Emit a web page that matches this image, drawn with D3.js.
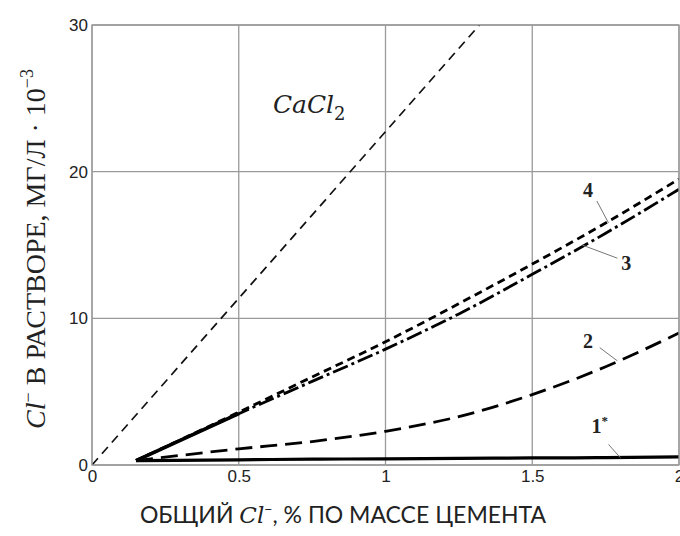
<!DOCTYPE html>
<html>
<head>
<meta charset="utf-8">
<style>
  body { margin: 0; background: #fff; }
  svg text { fill: #222; }
</style>
</head>
<body>
<div id="chart"></div>
<script src="https://d3js.org/d3.v7.min.js"></script>
<script>
// data
var xTicks = [0, 0.5, 1, 1.5, 2];
var yTicks = [0, 10, 20, 30];

var cacl2X = [0, 1.32];
var cacl2Y = [0, 30];

var xs = [0.15, 0.5, 0.75, 1.0, 1.25, 1.5, 1.75, 2.0];
var curve1 = [0.3, 0.35, 0.4, 0.42, 0.45, 0.48, 0.5, 0.55];
var curve2 = [0.3, 1.1, 1.6, 2.3, 3.3, 4.8, 6.7, 9.0];
var curve3 = [0.3, 3.5, 5.7, 7.9, 10.3, 13.0, 15.8, 18.8];
var curve4 = [0.3, 3.6, 6.0, 8.4, 11.0, 13.7, 16.5, 19.5];

var labels = ["1*", "2", "3", "4"];

var W = 680, H = 536;
var margin = {top: 25, right: 1, bottom: 71, left: 92};
var width = W - margin.left - margin.right,
    height = H - margin.top - margin.bottom;

var svg = d3.select("#chart").append("svg")
    .attr("width", W).attr("height", H);

var g = svg.append("g")
    .attr("transform", "translate(" + margin.left + "," + margin.top + ")");

var x = d3.scaleLinear().domain([0, 2]).range([0, width]);
var y = d3.scaleLinear().domain([0, 30]).range([height, 0]);

// grid
g.append("g").selectAll("line").data(xTicks).enter().append("line")
    .attr("x1", d => x(d)).attr("x2", d => x(d))
    .attr("y1", 0).attr("y2", height)
    .attr("stroke", "#9a9a9a").attr("stroke-width", 1.3);
g.append("g").selectAll("line").data(yTicks).enter().append("line")
    .attr("y1", d => y(d)).attr("y2", d => y(d))
    .attr("x1", 0).attr("x2", width)
    .attr("stroke", "#9a9a9a").attr("stroke-width", 1.3);

// axes (labels only)
var xAxis = g.append("g")
    .attr("transform", "translate(0," + height + ")")
    .call(d3.axisBottom(x).tickValues(xTicks).tickSize(0).tickPadding(5).tickFormat(d3.format("")));
var yAxis = g.append("g")
    .call(d3.axisLeft(y).tickValues(yTicks).tickSize(0).tickPadding(4));
[xAxis, yAxis].forEach(function(a) {
    a.select(".domain").remove();
    a.selectAll("text")
        .style("font-family", "'Liberation Sans', Arial, sans-serif")
        .style("font-size", "17px")
        .style("fill", "#222");
});

var clip = g.append("clipPath").attr("id", "clip")
    .append("rect").attr("width", width).attr("height", height);

var plot = g.append("g").attr("clip-path", "url(#clip)");

var line = d3.line()
    .x(d => x(d[0])).y(d => y(d[1]))
    .curve(d3.curveMonotoneX);

function pts(vals) { return xs.map((v, i) => [v, vals[i]]); }

// CaCl2 thin dashed
plot.append("path")
    .attr("d", d3.line().x(d => x(d[0])).y(d => y(d[1]))(cacl2X.map((v, i) => [v, cacl2Y[i]])))
    .attr("fill", "none").attr("stroke", "#111")
    .attr("stroke-width", 1.7).attr("stroke-dasharray", "9,6");

// curves
plot.append("path").attr("d", line(pts(curve1)))
    .attr("fill", "none").attr("stroke", "#000").attr("stroke-width", 3.2);
plot.append("path").attr("d", line(pts(curve2)))
    .attr("fill", "none").attr("stroke", "#000").attr("stroke-width", 2.8)
    .attr("stroke-dasharray", "17,8");
plot.append("path").attr("d", line(pts(curve3)))
    .attr("fill", "none").attr("stroke", "#000").attr("stroke-width", 2.8)
    .attr("stroke-dasharray", "16,4,3,4");
plot.append("path").attr("d", line(pts(curve4)))
    .attr("fill", "none").attr("stroke", "#000").attr("stroke-width", 2.8)
    .attr("stroke-dasharray", "8,5");
// common start of 3 and 4 looks solid
plot.append("path").attr("d", line(pts(curve3).slice(0, 2)))
    .attr("fill", "none").attr("stroke", "#000").attr("stroke-width", 3.6);

// frame
g.append("rect").attr("width", width).attr("height", height)
    .attr("fill", "none").attr("stroke", "#9a9a9a").attr("stroke-width", 1.3);

// curve labels with leader lines
var labelPos = [
    {t: "1*", lx: 1.73, ly: 2.2, ax: 1.80, ay: 0.5, bx: 1.76, by: 1.4},
    {t: "2", lx: 1.69, ly: 8.0, ax: 1.79, ay: 7.1, bx: 1.73, by: 8.0},
    {t: "3", lx: 1.82, ly: 13.3, ax: 1.67, ay: 15.0, bx: 1.79, by: 14.1},
    {t: "4", lx: 1.69, ly: 18.3, ax: 1.76, ay: 16.5, bx: 1.72, by: 18.0}
];
labelPos.forEach(function(p) {
    g.append("line")
        .attr("x1", x(p.bx)).attr("y1", y(p.by))
        .attr("x2", x(p.ax)).attr("y2", y(p.ay))
        .attr("stroke", "#777").attr("stroke-width", 1);
    var tx = g.append("text")
        .attr("x", x(p.lx)).attr("y", y(p.ly))
        .attr("text-anchor", "middle")
        .style("font-family", "'Liberation Serif', 'Times New Roman', serif")
        .style("font-weight", "bold").style("font-size", "20px");
    if (p.t === "1*") {
        tx.append("tspan").text("1");
        tx.append("tspan").attr("dy", -8).style("font-size", "13px").text("*");
    } else {
        tx.text(p.t);
    }
});

// CaCl2 label
var ct = g.append("text")
    .attr("x", x(0.74)).attr("y", y(24.0))
    .attr("text-anchor", "middle")
    .style("font-family", "'DejaVu Serif', serif")
    .style("font-style", "italic").style("font-size", "25px");
ct.append("tspan").text("CaCl");
ct.append("tspan").attr("dy", 7).style("font-style", "normal").style("font-size", "18px").text("2");

// y axis title
var yt = svg.append("text")
    .attr("transform", "translate(45," + (margin.top + height / 2 + 4) + ") rotate(-90)")
    .attr("text-anchor", "middle")
    .style("font-family", "'Liberation Serif', 'Times New Roman', serif")
    .style("font-size", "28px");
yt.append("tspan").style("font-style", "italic").text("Cl");
yt.append("tspan").attr("dy", -11).style("font-size", "18px").text("\u2212");
yt.append("tspan").attr("dy", 11).text(" В РАСТВОРЕ, МГ/Л · 10");
yt.append("tspan").attr("dy", -12).style("font-size", "18px").text("\u22123");

// x axis title
var xt = svg.append("text")
    .attr("x", 343).attr("y", 523)
    .attr("text-anchor", "middle")
    .style("font-family", "Lato, 'Open Sans', sans-serif")
    .style("font-size", "23px");
xt.append("tspan").text("ОБЩИЙ ");
xt.append("tspan").style("font-family", "'DejaVu Serif', serif").style("font-style", "italic").text("Cl");
xt.append("tspan").attr("dy", -9).style("font-size", "14px").text("\u2212");
xt.append("tspan").attr("dy", 9).text(", % ПО МАССЕ ЦЕМЕНТА");
</script>
</body>
</html>
